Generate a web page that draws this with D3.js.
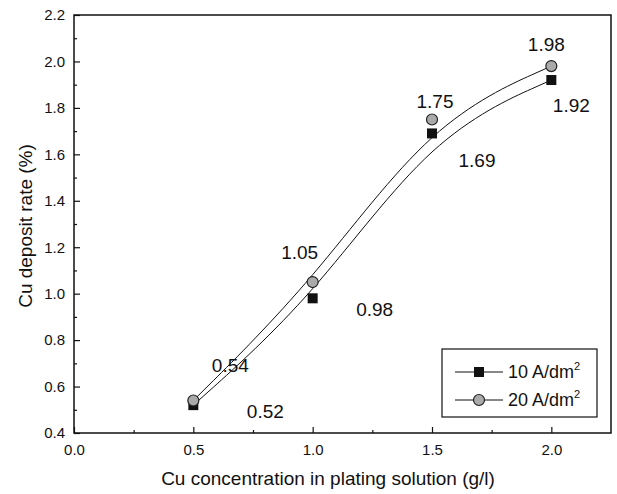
<!DOCTYPE html>
<html>
<head>
<meta charset="utf-8">
<script src="https://cdn.jsdelivr.net/npm/d3@7"></script>
<style>
  body { margin: 0; background: #fff; }
  text { font-family: "Liberation Sans", Arial, sans-serif; fill: #111; }
</style>
</head>
<body>
<svg width="617" height="494"></svg>
<script>
const concentration = [0.5, 1.0, 1.5, 2.0]
const rate10 = [0.52, 0.98, 1.69, 1.92]
const rate20 = [0.54, 1.05, 1.75, 1.98]
const seriesNames = ['10 A/dm', '20 A/dm']
const xTicks = [0.0, 0.5, 1.0, 1.5, 2.0]
const yTicks = [0.4, 0.6, 0.8, 1.0, 1.2, 1.4, 1.6, 1.8, 2.0, 2.2]

// label offsets (px) from each point, as placed in the original figure
const labelOffset10 = [[72, 6], [62, 11], [45, 27], [20, 25]]
const labelOffset20 = [[37, -35], [-13, -30], [3, -18], [-5, -22]]

const svg = d3.select('svg')
const margin = { left: 74, right: 6, top: 15, bottom: 61 }
const width = +svg.attr('width'), height = +svg.attr('height')

const x = d3.scaleLinear().domain([0, 2.25]).range([margin.left, width - margin.right])
const y = d3.scaleLinear().domain([0.4, 2.2]).range([height - margin.bottom, margin.top])

const g = svg.append('g')

// frame
g.append('rect')
  .attr('x', x(0)).attr('y', y(2.2))
  .attr('width', x(2.25) - x(0)).attr('height', y(0.4) - y(2.2))
  .attr('fill', 'none').attr('stroke', '#111').attr('stroke-width', 1.5)

// bottom axis, ticks inward
const xAxis = g.append('g')
  .attr('transform', `translate(0,${y(0.4)})`)
  .call(d3.axisBottom(x).tickValues(xTicks).tickFormat(d3.format('.1f')).tickSize(-6).tickPadding(8))
xAxis.select('.domain').remove()
xAxis.selectAll('text').attr('font-size', 15).attr('dy', '0.95em')
g.append('g')
  .attr('transform', `translate(0,${y(0.4)})`)
  .call(d3.axisBottom(x).tickValues([0.25, 0.75, 1.25, 1.75]).tickSize(-3).tickFormat(''))
  .select('.domain').remove()

// left axis, ticks inward
const yAxis = g.append('g')
  .attr('transform', `translate(${x(0)},0)`)
  .call(d3.axisLeft(y).tickValues(yTicks).tickFormat(d3.format('.1f')).tickSize(-6).tickPadding(9))
yAxis.select('.domain').remove()
yAxis.selectAll('text').attr('font-size', 15)
g.append('g')
  .attr('transform', `translate(${x(0)},0)`)
  .call(d3.axisLeft(y).tickValues(d3.range(0.5, 2.2, 0.2)).tickSize(-3).tickFormat(''))
  .select('.domain').remove()

g.selectAll('.tick line').attr('stroke', '#111').attr('stroke-width', 1.2)

// axis titles
svg.append('text')
  .attr('x', 328).attr('y', 485)
  .attr('text-anchor', 'middle').attr('font-size', 19)
  .text('Cu concentration in plating solution (g/l)')
svg.append('text')
  .attr('transform', `translate(32,226) rotate(-90)`)
  .attr('text-anchor', 'middle').attr('font-size', 19)
  .text('Cu deposit rate (%)')

// curves
const line = d3.line()
  .x(d => x(d[0]))
  .y(d => y(d[1]))
  .curve(d3.curveBasis)

const pts10 = concentration.map((c, i) => [c, rate10[i]])
const pts20 = concentration.map((c, i) => [c, rate20[i]])

g.append('path').datum(pts10).attr('d', line)
  .attr('fill', 'none').attr('stroke', '#111').attr('stroke-width', 1)
g.append('path').datum(pts20).attr('d', line)
  .attr('fill', 'none').attr('stroke', '#111').attr('stroke-width', 1)

// markers
g.selectAll('.sq').data(pts10).enter()
  .append('rect')
  .attr('x', d => x(d[0]) - 5).attr('y', d => y(d[1]) - 5)
  .attr('width', 10).attr('height', 10)
  .attr('fill', '#111')

g.selectAll('.ci').data(pts20).enter()
  .append('circle')
  .attr('cx', d => x(d[0])).attr('cy', d => y(d[1]))
  .attr('r', 5.5)
  .attr('fill', '#aaa').attr('stroke', '#222').attr('stroke-width', 1.2)

// value labels
g.selectAll('.lab10').data(pts10).enter()
  .append('text')
  .attr('x', (d, i) => x(d[0]) + labelOffset10[i][0])
  .attr('y', (d, i) => y(d[1]) + labelOffset10[i][1])
  .attr('text-anchor', 'middle').attr('dominant-baseline', 'central')
  .attr('font-size', 19)
  .text(d => d[1].toFixed(2))

g.selectAll('.lab20').data(pts20).enter()
  .append('text')
  .attr('x', (d, i) => x(d[0]) + labelOffset20[i][0])
  .attr('y', (d, i) => y(d[1]) + labelOffset20[i][1])
  .attr('text-anchor', 'middle').attr('dominant-baseline', 'central')
  .attr('font-size', 19)
  .text(d => d[1].toFixed(2))

// legend
const legend = svg.append('g').attr('transform', 'translate(442,349)')
legend.append('rect')
  .attr('width', 155).attr('height', 68)
  .attr('fill', '#fff').attr('stroke', '#111').attr('stroke-width', 1.2)

seriesNames.forEach((name, i) => {
  const row = legend.append('g').attr('transform', `translate(0,${23 + i * 28})`)
  row.append('line').attr('x1', 13).attr('x2', 61)
    .attr('stroke', '#111').attr('stroke-width', 1)
  if (i === 0) {
    row.append('rect').attr('x', 32).attr('y', -5).attr('width', 10).attr('height', 10).attr('fill', '#111')
  } else {
    row.append('circle').attr('cx', 37).attr('r', 5.5)
      .attr('fill', '#aaa').attr('stroke', '#222').attr('stroke-width', 1.2)
  }
  const t = row.append('text').attr('x', 66).attr('y', 6).attr('font-size', 18)
  t.append('tspan').text(name)
  t.append('tspan').attr('font-size', 11).attr('dy', -8).text('2')
})
</script>
</body>
</html>
